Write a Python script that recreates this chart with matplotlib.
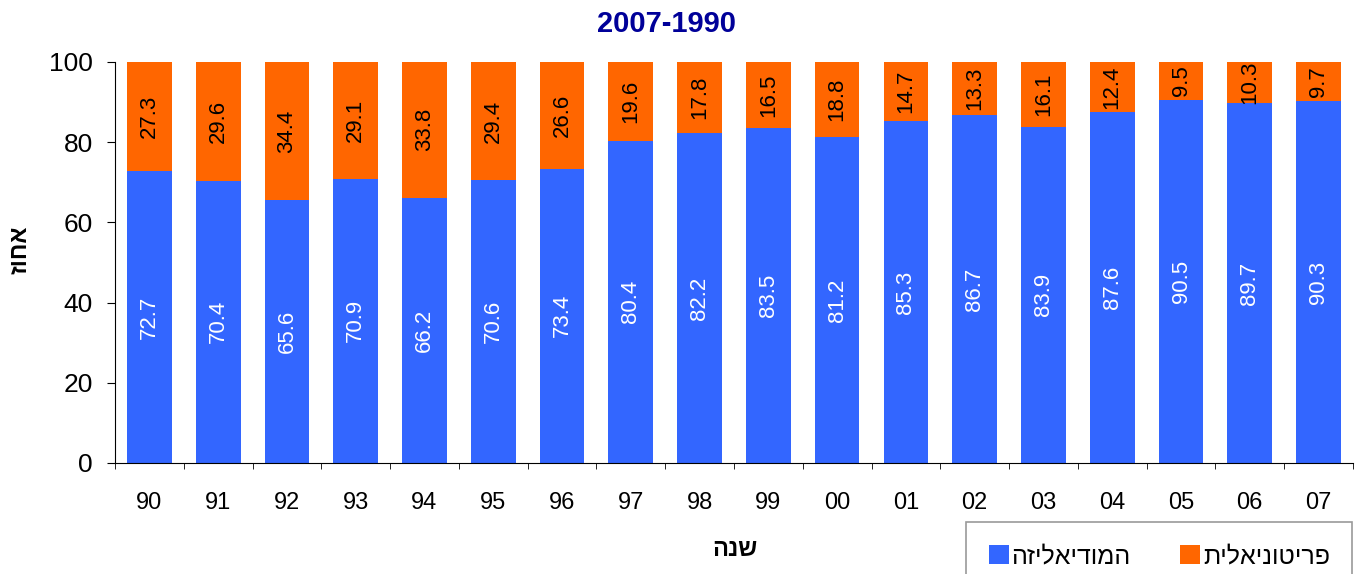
import matplotlib.pyplot as plt
import numpy as np

plt.rcParams['font.family'] = ['Liberation Sans', 'DejaVu Sans']

years = ['90', '91', '92', '93', '94', '95', '96', '97', '98', '99',
         '00', '01', '02', '03', '04', '05', '06', '07']
hemo = [72.7, 70.4, 65.6, 70.9, 66.2, 70.6, 73.4, 80.4, 82.2, 83.5,
        81.2, 85.3, 86.7, 83.9, 87.6, 90.5, 89.7, 90.3]
perit = [27.3, 29.6, 34.4, 29.1, 33.8, 29.4, 26.6, 19.6, 17.8, 16.5,
         18.8, 14.7, 13.3, 16.1, 12.4, 9.5, 10.3, 9.7]

# hebrew strings reversed for display (no bidi in matplotlib)
lab_hemo = 'המודיאליזה'[::-1]
lab_perit = 'פריטוניאלית'[::-1]
ylab = 'אחוז'[::-1]
xlab = 'שנה'[::-1]

blue = '#3366FF'
orange = '#FF6600'

fig = plt.figure(figsize=(13.64, 5.74), dpi=100)
ax = fig.add_axes([0.0843, 0.1934, 0.9076, 0.6986])

x = np.arange(len(years))
b1 = ax.bar(x, hemo, width=0.65, color=blue, label=lab_hemo)
b2 = ax.bar(x, perit, width=0.65, bottom=hemo, color=orange, label=lab_perit)

ax.bar_label(b1, labels=[f'{v:.1f}' for v in hemo], label_type='center',
             rotation=90, color='white', fontsize=16)
ax.bar_label(b2, labels=[f'{v:.1f}' for v in perit], label_type='center',
             rotation=90, color='black', fontsize=16)

ax.set_xlim(-0.5, len(years) - 0.5)
ax.set_ylim(0, 100)
ax.set_yticks([0, 20, 40, 60, 80, 100])
ax.set_xticks(x)
ax.set_xticklabels(years)
ax.set_xticks(np.arange(len(years) + 1) - 0.5, minor=True)
ax.tick_params(axis='x', which='major', length=0, pad=21, labelsize=17)
ax.tick_params(axis='x', which='minor', length=4)
ax.tick_params(axis='y', length=6, pad=10, labelsize=19)

for s in ['top', 'right']:
    ax.spines[s].set_visible(False)

fig.text(666 / 1364, 1 - 24 / 574, '2007-1990', color='#000099', fontsize=21,
         fontweight='bold', ha='center', va='center')
fig.text(20 / 1364, 1 - 250 / 574, ylab, rotation=90, fontsize=17, fontweight='bold',
         ha='center', va='center')
fig.text(735 / 1364, 1 - 550 / 574, xlab, fontsize=17, fontweight='bold',
         ha='center', va='center')

leg = fig.legend(loc='upper left', bbox_to_anchor=(966 / 1364, 1 - 522 / 574),
                 ncol=2, fontsize=18, frameon=True, fancybox=False,
                 edgecolor='#808080', handlelength=0.8, handleheight=0.8,
                 handletextpad=0.1, columnspacing=2.0, borderpad=0.9,
                 borderaxespad=0)
leg.get_frame().set_linewidth(1.2)

fig.savefig('out.png', dpi=100)
